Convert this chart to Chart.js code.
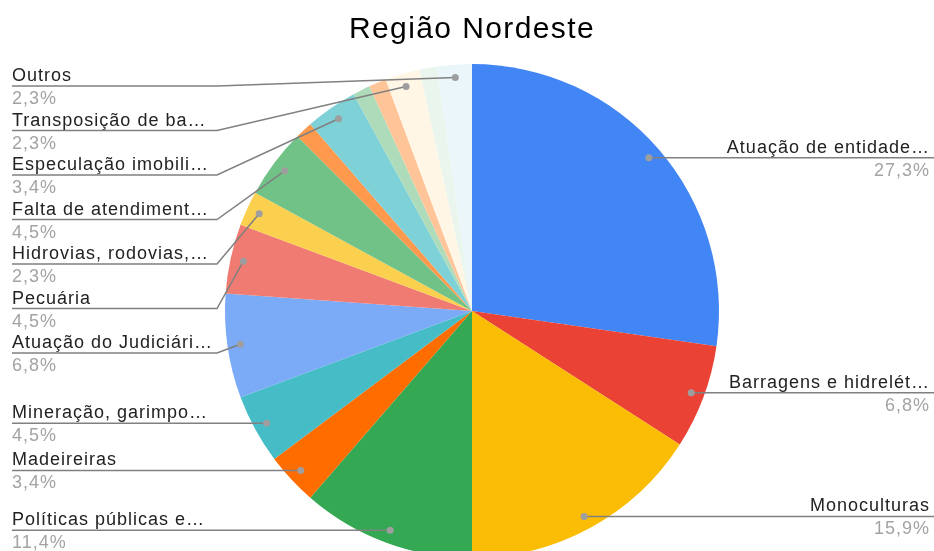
<!DOCTYPE html>
<html>
<head>
<meta charset="utf-8">
<script src="https://cdn.jsdelivr.net/npm/chart.js@4/dist/chart.umd.min.js"></script>
<style>
  html, body { margin: 0; padding: 0; background: #fff; overflow: hidden; }
  #wrap { position: relative; width: 934px; height: 620px; }
</style>
</head>
<body>
<div id="wrap"><canvas id="pieChart"></canvas></div>
<script>
const title = 'Região Nordeste';

// categorias (texto como aparece, já cortado pelo gráfico original)
const categories = [
    'Atuação de entidade…',
    'Barragens e hidrelét…',
    'Monoculturas',
    'Políticas públicas e…',
    'Madeireiras',
    'Mineração, garimpo…',
    'Atuação do Judiciári…',
    'Pecuária',
    'Hidrovias, rodovias,…',
    'Falta de atendiment…',
    '',
    'Especulação imobili…',
    '',
    '',
    'Transposição de ba…',
    '',
    'Outros'
];

// número de casos por categoria (total 88)
const counts = [24, 6, 14, 10, 3, 4, 6, 4, 2, 4, 1, 3, 1, 1, 2, 1, 2];

const sliceColors = [
    '#4285f4', '#ea4335', '#fbbc04', '#34a853', '#ff6d01', '#46bdc6',
    '#7baaf7', '#f07b72', '#fcd04f', '#71c287', '#ff994d', '#7ed1d7',
    '#aedcba', '#ffc599', '#fff6e6', '#eaf5ed', '#eaf6f9'
];

const FONT = "'Liberation Sans', Arial, sans-serif";

const titlePlugin = {
    id: 'titlePlugin',
    afterDraw(chart) {
        const ctx = chart.ctx;
        ctx.save();
        ctx.font = '30px ' + FONT;
        ctx.letterSpacing = '1.4px';
        ctx.fillStyle = '#000';
        ctx.textAlign = 'center';
        ctx.textBaseline = 'alphabetic';
        ctx.fillText(title, 472, 38);
        ctx.restore();
    }
};

const leaderLabels = {
    id: 'leaderLabels',
    afterDraw(chart) {
        const ctx = chart.ctx;
        const meta = chart.getDatasetMeta(0);
        const total = counts.reduce((a, b) => a + b, 0);
        const W = chart.width;
        const left = [], right = [];

        meta.data.forEach((arc, i) => {
            const pct = counts[i] / total * 100;
            if (pct < 2 || !categories[i]) return;
            const p = arc.getProps(['x', 'y', 'startAngle', 'endAngle', 'outerRadius'], true);
            const mid = (p.startAngle + p.endAngle) / 2;
            const r = p.outerRadius - 13;
            const item = {
                dx: p.x + Math.cos(mid) * r,
                dy: p.y + Math.sin(mid) * r,
                text: categories[i],
                pct: pct.toFixed(1).replace('.', ',') + '%'
            };
            (Math.cos(mid) >= 0 ? right : left).push(item);
        });

        const place = list => {
            list.sort((a, b) => a.dy - b.dy);
            let prev = 86 - 44.5;
            list.forEach(it => {
                it.ly = Math.max(it.dy, prev + 44.5);
                prev = it.ly;
            });
        };
        place(left);
        place(right);

        ctx.save();
        ctx.strokeStyle = '#808080';
        ctx.lineWidth = 1.5;

        const drawOne = (it, side) => {
            const x0 = side === 'left' ? 12 : W;
            const elbow = side === 'left' ? 217 : W - 217;
            ctx.beginPath();
            ctx.moveTo(x0, it.ly);
            ctx.lineTo(elbow, it.ly);
            ctx.lineTo(it.dx, it.dy);
            ctx.stroke();
            ctx.beginPath();
            ctx.fillStyle = '#9e9e9e';
            ctx.arc(it.dx, it.dy, 3.5, 0, Math.PI * 2);
            ctx.fill();

            const tx = side === 'left' ? 12 : W - 4;
            ctx.textAlign = side === 'left' ? 'left' : 'right';
            ctx.font = '18px ' + FONT;
            ctx.letterSpacing = '1px';
            ctx.fillStyle = '#222';
            ctx.fillText(it.text, tx, it.ly - 5);
            ctx.fillStyle = '#a3a3a3';
            ctx.fillText(it.pct, tx, it.ly + 18);
            ctx.letterSpacing = '0px';
        };
        left.forEach(it => drawOne(it, 'left'));
        right.forEach(it => drawOne(it, 'right'));
        ctx.restore();
    }
};

new Chart(document.getElementById('pieChart'), {
    type: 'pie',
    data: {
        labels: categories,
        datasets: [{
            data: counts,
            backgroundColor: sliceColors,
            borderWidth: 0
        }]
    },
    options: {
        responsive: true,
        maintainAspectRatio: false,
        animation: false,
        layout: { padding: { top: 64, bottom: 62, left: 225, right: 215 } },
        plugins: {
            legend: { display: false },
            tooltip: { enabled: false },
            title: { display: false }
        }
    },
    plugins: [leaderLabels, titlePlugin]
});
</script>
</body>
</html>
